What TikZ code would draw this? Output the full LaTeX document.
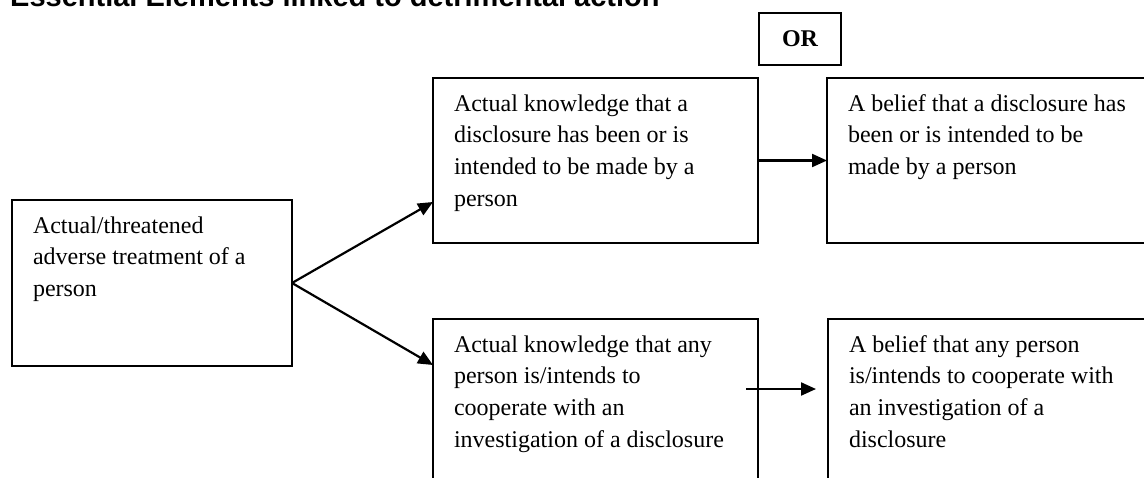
\documentclass[tikz,border=0pt]{standalone}
\usepackage{fontspec}
\setmainfont{Liberation Serif}
\newfontfamily\titlefont{Liberation Sans}
\usetikzlibrary{arrows.meta,calc}
\newcommand{\boxtext}[3]{\parbox[c][#2][t]{#1}{\fontsize{24}{31.7}\selectfont\rule{0pt}{33pt}#3}}
\tikzset{
  box/.style={draw, line width=2pt, rectangle, anchor=north west, inner xsep=21pt, inner ysep=0pt, outer sep=0pt},
  conn/.style={line width=2.2pt, -{Triangle[length=15pt,width=13pt]}},
}
\begin{document}
\begin{tikzpicture}[x=1pt,y=-1pt]
\useasboundingbox (0,0) rectangle (1144,477);
\clip (0,0) rectangle (1144,477);
\node[anchor=base west, inner sep=0pt] (title) at (10,6) {\titlefont\bfseries\fontsize{29}{34}\selectfont Essential Elements linked to detrimental action};
\node[draw, line width=2pt, minimum width=82pt, minimum height=52pt, anchor=north west, inner sep=0pt] (orbox) at (758,12) {\fontsize{24}{28}\selectfont\bfseries OR};
\node[box] (A) at (12,200) {\boxtext{238pt}{166pt}{Actual/threatened\\adverse treatment of a\\person}};
\node[box] (B) at (433,78) {\boxtext{283pt}{165pt}{Actual knowledge that a\\disclosure has been or is\\intended to be made by a\\person}};
\node[box] (C) at (827,78) {\boxtext{300pt}{165pt}{A belief that a disclosure has\\been or is intended to be\\made by a person}};
\node[box] (D) at (433,319) {\boxtext{283pt}{170pt}{Actual knowledge that any\\person is/intends to\\cooperate with an\\investigation of a disclosure}};
\node[box] (E) at (828,319) {\boxtext{300pt}{170pt}{A belief that any person\\is/intends to cooperate with\\an investigation of a\\disclosure}};
\draw[conn] (A.east) -- ($(B.south west)+(0,-41)$);
\draw[conn] (A.east) -- ($(D.north west)+(0,46)$);
\draw[conn] (B.east) -- (C.west);
\draw[conn] ($(D.north east)+(-12,70)$) -- ($(E.north west)+(-12,70)$);
\end{tikzpicture}
\end{document}
